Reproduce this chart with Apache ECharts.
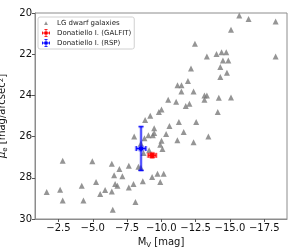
<!DOCTYPE html>
<html><head><meta charset="utf-8">
<script src="https://cdn.jsdelivr.net/npm/echarts@6/dist/echarts.min.js"></script>
<style>html,body{margin:0;padding:0;background:#fff}#c{width:300px;height:250px}</style>
</head><body><div id="c"></div>
<script>
// LG dwarf galaxies (M_V [mag], mu_e [mag/arcsec^2])
const dwarfMv = [-1.64,-2.62,-2.81,-2.81,-4.20,-4.32,-4.97,-5.24,-5.54,-5.90,-6.39,-6.39,-6.56,-6.63,-6.80,-6.46,-6.94,-7.16,-7.63,-7.63,-7.97,-8.11,-8.02,-8.33,-8.51,-8.65,-8.77,-9.06,-8.82,-9.19,-9.33,-9.72,-10.17,-9.92,-9.48,-10.59,-11.63,-9.48,-9.38,-10.35,-11.17,-12.35,-13.43,-10.01,-9.92,-10.08,-9.11,-8.70,-8.51,-11.28,-12.54,-9.82,-10.01,-10.50,-11.08,-11.78,-12.05,-13.14,-13.32,-13.14,-14.19,-15.08,-14.11,-11.18,-11.47,-11.46,-12.35,-11.94,-12.16,-12.45,-13.32,-14.02,-14.39,-14.73,-14.49,-14.88,-14.30,-14.78,-14.30,-15.08,-15.68,-16.36,-18.33,-18.33];
const dwarfMu = [28.69,28.58,29.10,27.17,28.38,29.10,27.20,28.20,28.79,28.59,27.32,28.66,27.88,28.30,28.38,29.55,27.57,27.92,27.41,28.47,28.30,29.17,25.99,27.46,27.51,28.17,26.08,25.93,25.19,24.99,27.96,27.80,27.80,28.20,25.60,25.49,25.78,25.83,25.94,25.87,26.18,26.28,26.00,26.20,26.39,26.60,26.66,26.80,26.34,25.29,25.29,24.81,24.69,24.21,24.31,24.51,24.40,24.00,24.00,24.21,24.11,24.10,24.80,23.51,23.51,23.81,23.81,23.30,22.70,21.49,22.11,21.99,21.91,21.91,22.30,22.30,22.62,22.90,23.11,20.81,20.12,20.29,20.41,22.11];
// Donatiello I
const galfitMv = [-9.33], galfitMu = [26.91], galfitMvErr = [0.29], galfitMuErr = [0.10];
const rspMv = [-8.52], rspMu = [26.58], rspMvErr = [0.35], rspMuErr = [1.06];
const xTicks = [-2.5,-5.0,-7.5,-10.0,-12.5,-15.0,-17.5];
const yTicks = [20,22,24,26,28,30];

const FONT = 'DejaVu Sans';
const ebIcon = 'path://M0,4.5h10v1h-10z M4.5,0h1v10h-1z M0,3h1v4h-1z M9,3h1v4h-1z M3,0h4v1h-4z M3,9h4v1h-4z M3,3h4v4h-4z';
const triIcon = 'path://M0,0h0.01v0.01h-0.01z M9.99,9.99h0.01v0.01h-0.01z M2.6,7.4L5,2.8L7.4,7.4z';

function errSeries(name, color, halo, mv, mu, mvErr, muErr) {
  return {
    name, type: 'custom', z: 5, itemStyle: { color },
    data: mv.map((v, i) => [v, mu[i], mvErr[i], muErr[i]]),
    renderItem(params, api) {
      const x = api.value(0), y = api.value(1), xe = api.value(2), ye = api.value(3);
      const c = api.coord([x, y]);
      const l = api.coord([x - xe, y]), r = api.coord([x + xe, y]);
      const t = api.coord([x, y - ye]), b = api.coord([x, y + ye]);
      const cap = 2.5;
      const segs = [
        [l, r], [t, b],
        [[l[0], l[1] - cap], [l[0], l[1] + cap]], [[r[0], r[1] - cap], [r[0], r[1] + cap]],
        [[t[0] - cap, t[1]], [t[0] + cap, t[1]]], [[b[0] - cap, b[1]], [b[0] + cap, b[1]]]
      ];
      const children = [];
      segs.forEach(s => children.push({ type: 'line', shape: { x1: s[0][0], y1: s[0][1], x2: s[1][0], y2: s[1][1] }, style: { stroke: halo, lineWidth: 3 } }));
      segs.forEach(s => children.push({ type: 'line', shape: { x1: s[0][0], y1: s[0][1], x2: s[1][0], y2: s[1][1] }, style: { stroke: color, lineWidth: 1 } }));
      children.push({ type: 'circle', shape: { cx: c[0], cy: c[1], r: 3.6 }, style: { fill: halo } });
      children.push({ type: 'circle', shape: { cx: c[0], cy: c[1], r: 2.4 }, style: { fill: color } });
      return { type: 'group', children };
    }
  };
}

const chart = echarts.init(document.getElementById('c'), null, { renderer: 'canvas' });
chart.setOption({
  animation: false,
  textStyle: { fontFamily: FONT },
  grid: { left: 35, right: 13, top: 13, bottom: 31, containLabel: false, outerBoundsMode: 'none',
          show: true, borderColor: '#8c8c8c', borderWidth: 1 },
  legend: {
    orient: 'vertical', left: 38, top: 17, padding: [2, 3, 2, 4], itemGap: 2,
    itemWidth: 12, itemHeight: 8,
    backgroundColor: 'rgba(255,255,255,0.85)', borderColor: '#d0d0d0', borderWidth: 1, borderRadius: 2,
    textStyle: { fontFamily: FONT, fontSize: 7, color: '#222' },
    data: [
      { name: 'LG dwarf galaxies', icon: triIcon },
      { name: 'Donatiello I. (GALFIT)', icon: ebIcon },
      { name: 'Donatiello I. (RSP)', icon: ebIcon }
    ]
  },
  xAxis: {
    type: 'value', inverse: true, min: -19.16, max: -0.79,
    name: 'M{sub|V} [mag]', nameLocation: 'middle', nameGap: 15,
    nameTextStyle: { fontFamily: FONT, fontSize: 10, color: '#111',
      rich: { sub: { fontFamily: FONT, fontSize: 7, verticalAlign: 'bottom', padding: [4, 0, 0, 0], color: '#111' } } },
    axisLine: { show: true, onZero: false, lineStyle: { color: '#8c8c8c' } },
    axisTick: { show: true, length: 3, customValues: xTicks, lineStyle: { color: '#555' } },
    axisLabel: { customValues: xTicks, margin: 4, fontSize: 10, color: '#111', fontFamily: FONT,
      formatter: v => v.toFixed(1).replace('-', '\u2212') },
    splitLine: { show: false }
  },
  yAxis: {
    type: 'value', inverse: true, min: 20, max: 30, interval: 2,
    name: '{i|\u03bc}{sub|e} [mag/arcsec{sup|2}]', nameLocation: 'middle', nameGap: 22, nameRotate: 90,
    nameTextStyle: { fontFamily: FONT, fontSize: 10, color: '#111',
      rich: {
        i: { fontFamily: FONT, fontSize: 10, fontStyle: 'italic', color: '#111' },
        sub: { fontFamily: FONT, fontSize: 7, verticalAlign: 'bottom', padding: [4, 0, 0, 0], color: '#111' },
        sup: { fontFamily: FONT, fontSize: 7, verticalAlign: 'top', padding: [0, 0, 4, 0], color: '#111' }
      } },
    axisLine: { show: true, onZero: false, lineStyle: { color: '#8c8c8c' } },
    axisTick: { show: true, length: 3, lineStyle: { color: '#555' } },
    axisLabel: { margin: 3, fontSize: 10, color: '#111', fontFamily: FONT },
    splitLine: { show: false }
  },
  series: [
    { name: 'LG dwarf galaxies', type: 'scatter', symbol: 'triangle', symbolSize: 6, z: 2,
      itemStyle: { color: '#7a7a7a' },
      data: dwarfMv.map((v, i) => [v, dwarfMu[i]]) },
    errSeries('Donatiello I. (GALFIT)', '#ff0000', 'rgba(255,0,0,0.3)', galfitMv, galfitMu, galfitMvErr, galfitMuErr),
    errSeries('Donatiello I. (RSP)', '#0000ff', 'rgba(0,0,255,0.3)', rspMv, rspMu, rspMvErr, rspMuErr)
  ]
});
</script></body></html>
